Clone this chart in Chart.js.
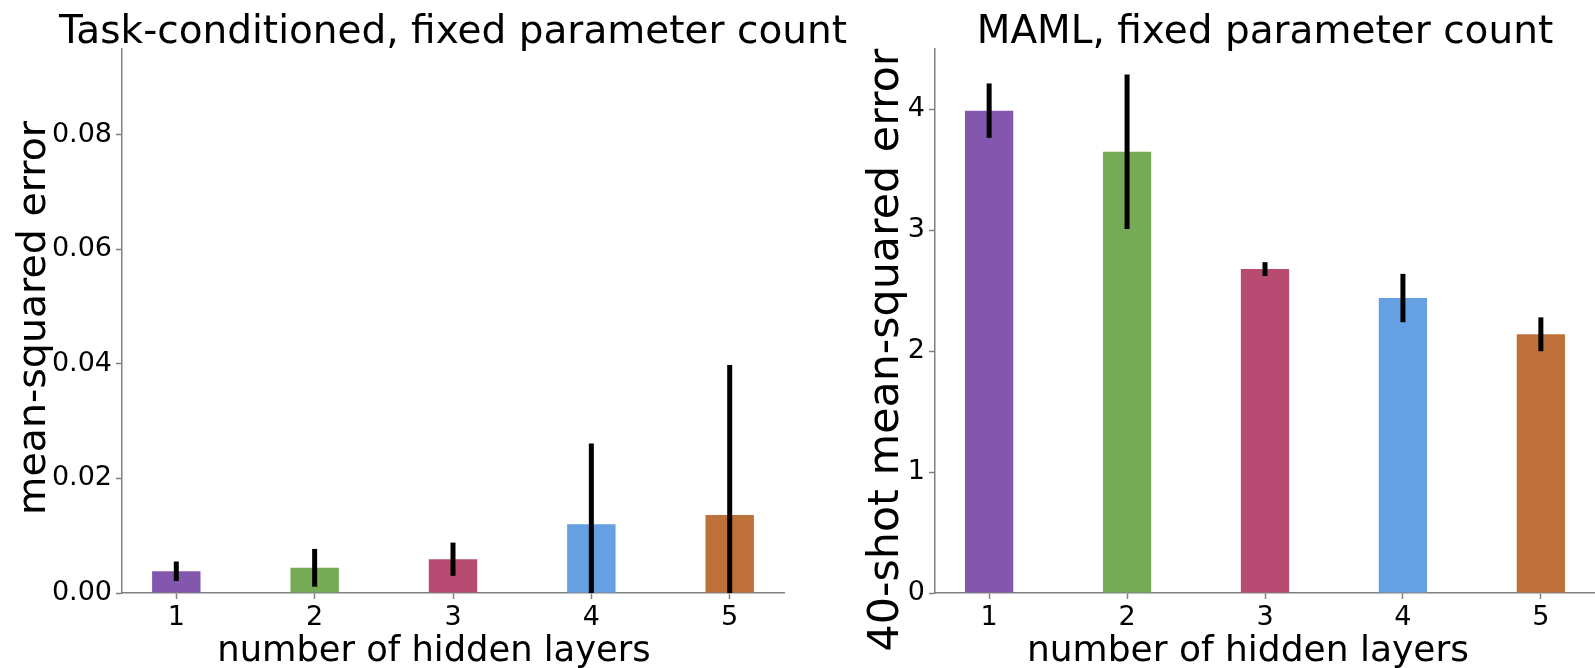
<!DOCTYPE html>
<html>
<head>
<meta charset="utf-8">
<script src="https://cdn.jsdelivr.net/npm/chart.js@4.4.1/dist/chart.umd.min.js"></script>
<style>
  html, body { margin: 0; padding: 0; background: #ffffff; }
  body { width: 1595px; height: 668px; position: relative; overflow: hidden; }
  canvas { position: absolute; top: 0; }
  #c1 { left: 0; }
  #c2 { left: 800px; }
</style>
</head>
<body>
<canvas id="c1" width="900" height="668"></canvas>
<canvas id="c2" width="795" height="668"></canvas>
<script>
// ---------- data ----------
const layers = [1, 2, 3, 4, 5];
const xTickLabels = ['1', '2', '3', '4', '5'];
const barColors = ['#8457AE', '#75AA56', '#B74B71', '#65A0E2', '#BE703A'];

const tcTitle = 'Task-conditioned, fixed parameter count';
const tcMean = [0.0038, 0.0044, 0.0059, 0.0120, 0.0136];
const tcErr  = [0.0017, 0.0033, 0.0029, 0.0141, 0.0262];
const tcYTicks = [0.00, 0.02, 0.04, 0.06, 0.08];

const mamlTitle = 'MAML, fixed parameter count';
const mamlMean = [3.99, 3.65, 2.68, 2.44, 2.14];
const mamlErr  = [0.225, 0.64, 0.057, 0.20, 0.14];
const mamlYTicks = [0, 1, 2, 3, 4];

const xLabel = 'number of hidden layers';
const tcYLabel = 'mean-squared error';
const mamlYLabel = '40-shot mean-squared error';

// ---------- style ----------
const FONT = '"DejaVu Sans"';
const AXIS_GRAY = '#808080';

const errorBarPlugin = {
  id: 'errorBars',
  afterDatasetsDraw(chart, args, opts) {
    const {ctx, chartArea} = chart;
    const xs = chart.scales.x, ys = chart.scales.y;
    ctx.save();
    ctx.beginPath();
    ctx.rect(chartArea.left, chartArea.top, chartArea.right - chartArea.left, chartArea.bottom - chartArea.top);
    ctx.clip();
    ctx.strokeStyle = '#000000';
    ctx.lineWidth = 5;
    ctx.lineCap = 'butt';
    opts.means.forEach((m, i) => {
      const x = xs.getPixelForValue(opts.xs[i]);
      const y1 = ys.getPixelForValue(m + opts.errs[i]);
      const y2 = ys.getPixelForValue(m - opts.errs[i]);
      ctx.beginPath();
      ctx.moveTo(x, y1);
      ctx.lineTo(x, y2);
      ctx.stroke();
    });
    ctx.restore();
  }
};

// Text labels (title, axis titles) drawn relative to the chart area
const labelPlugin = {
  id: 'labels',
  afterDraw(chart, args, o) {
    const {ctx, chartArea: a} = chart;
    const cx = (a.left + a.right) / 2;
    const cy = (a.top + a.bottom) / 2;
    ctx.save();
    ctx.fillStyle = '#000000';
    ctx.textBaseline = 'alphabetic';
    ctx.textAlign = 'center';
    // title
    ctx.font = o.titleSize + 'px ' + FONT;
    ctx.fillText(o.title, cx, a.top - o.titleGap);
    // x label
    ctx.font = o.xSize + 'px ' + FONT;
    ctx.fillText(o.xText, cx + o.xShift, a.bottom + o.xGap);
    // y label (rotated)
    ctx.font = o.ySize + 'px ' + FONT;
    ctx.translate(a.left - o.yGap, cy + o.yShift);
    ctx.rotate(-Math.PI / 2);
    ctx.fillText(o.yText, 0, 0);
    ctx.restore();
  }
};

function makeChart(id, means, errs, yTicks, yMax, yFmt, yAxisWidth, padRight, labels) {
  return new Chart(document.getElementById(id), {
    type: 'bar',
    data: {
      datasets: [{
        data: layers.map((x, i) => ({x: x, y: means[i]})),
        backgroundColor: barColors,
        borderWidth: 0,
        barPercentage: 0.35,
        categoryPercentage: 1.0
      }]
    },
    options: {
      responsive: false,
      animation: false,
      devicePixelRatio: 1,
      layout: { padding: { left: 0, right: padRight, top: 49, bottom: 0 } },
      plugins: {
        legend: { display: false },
        tooltip: { enabled: false },
        title: { display: false },
        errorBars: { xs: layers, means: means, errs: errs },
        labels: labels
      },
      scales: {
        x: {
          type: 'linear',
          min: 0.6075,
          max: 5.3925,
          offset: false,
          afterBuildTicks: s => { s.ticks = layers.map(v => ({value: v})); },
          afterFit: s => { s.height = 75; },
          ticks: {
            color: '#000000',
            font: { family: 'DejaVu Sans', size: 27 },
            padding: 3,
            maxRotation: 0,
            autoSkip: false,
            callback: (v) => xTickLabels[layers.indexOf(v)]
          },
          grid: { display: true, drawOnChartArea: false, drawTicks: true, tickLength: 6, tickColor: AXIS_GRAY, tickWidth: 1.5, offset: false },
          border: { display: true, color: AXIS_GRAY, width: 1.5 },
          title: { display: false }
        },
        y: {
          type: 'linear',
          min: 0,
          max: yMax,
          afterBuildTicks: s => { s.ticks = yTicks.map(v => ({value: v})); },
          afterFit: s => { s.width = yAxisWidth; },
          ticks: {
            color: '#000000',
            font: { family: 'DejaVu Sans', size: 27 },
            padding: 4,
            callback: yFmt
          },
          grid: { display: true, drawOnChartArea: false, drawTicks: true, tickLength: 6, tickColor: AXIS_GRAY, tickWidth: 1.5 },
          border: { display: true, color: AXIS_GRAY, width: 1.5 },
          title: { display: false }
        }
      }
    },
    plugins: [errorBarPlugin, labelPlugin]
  });
}

makeChart('c1', tcMean, tcErr, tcYTicks, 0.095, v => v.toFixed(2), 122, 116, {
  title: tcTitle, titleSize: 39, titleGap: 6,
  xText: xLabel, xSize: 35.3, xShift: -19, xGap: 68,
  yText: tcYLabel, ySize: 39.5, yGap: 77, yShift: -3
});
makeChart('c2', mamlMean, mamlErr, mamlYTicks, 4.5, v => String(v), 135, 0, {
  title: mamlTitle, titleSize: 39, titleGap: 6,
  xText: xLabel, xSize: 36, xShift: -17, xGap: 68,
  yText: mamlYLabel, ySize: 42.8, yGap: 37, yShift: 29
});
</script>
</body>
</html>
